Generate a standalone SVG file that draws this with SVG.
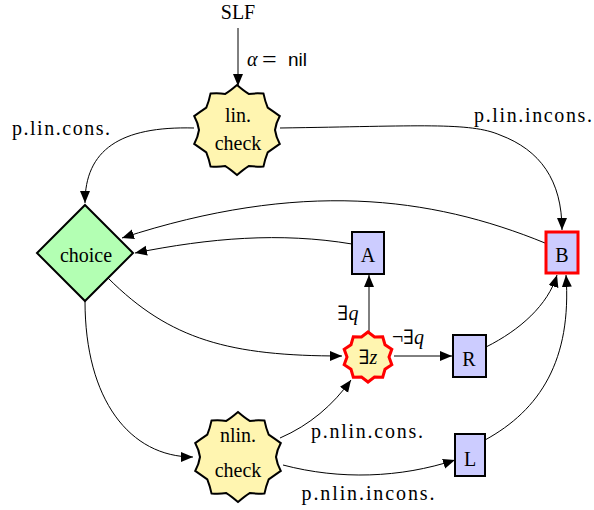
<svg xmlns="http://www.w3.org/2000/svg" width="594" height="510" viewBox="0 0 594 510">
  <style>
    text { font-family: "Liberation Serif", "DejaVu Serif", serif; font-size: 20px; fill: #000; }
    .c { text-anchor: middle; }
    .sans { font-family: "Liberation Sans", "DejaVu Sans", sans-serif; font-size: 19px; }
    .it { font-style: italic; }
    .eq { font-size: 26px; }
    .edge { fill: none; stroke: #000; stroke-width: 1; marker-end: url(#arr); }
    .star { fill: #fff5b0; stroke: #000; stroke-width: 2; stroke-linejoin: miter; }
    .star.red { stroke: #ff0000; stroke-width: 3; }
    .box { fill: #ccccff; stroke: #000; stroke-width: 2; }
    .box.red { stroke: #ff0000; stroke-width: 3; }
    .diamond { fill: #b3ffb3; stroke: #000; stroke-width: 2; }
  </style>
  <defs>
    <marker id="arr" markerUnits="userSpaceOnUse" markerWidth="13" markerHeight="11" refX="12" refY="5" orient="auto">
      <path d="M0,0 L12,5 L0,10 z" fill="#000"/>
    </marker>
  </defs>

  <!-- connectors -->
  <g id="edges">
    <path class="edge" d="M238,28 L238,86"/>
    <path class="edge" d="M194,128 C120,126 85,150 85,203"/>
    <path class="edge" d="M280,128 C420,126 470,122 500,135 C540,150 562,180 562,230"/>
    <path class="edge" d="M545,243 C430,196 300,180 122,238"/>
    <path class="edge" d="M352,244 C280,232 210,238 135,253"/>
    <path class="edge" d="M108,278 C170,340 230,356 342,356"/>
    <path class="edge" d="M85,301 C85,400 130,457 193,457"/>
    <path class="edge" d="M369,332 L369,275"/>
    <path class="edge" d="M394,356 L452,356"/>
    <path class="edge" d="M486,347 C520,330 548,305 557,275"/>
    <path class="edge" d="M485,440 C540,410 572,360 566,275"/>
    <path class="edge" d="M280,438 C310,425 333,405 351,380"/>
    <path class="edge" d="M283,465 C340,480 400,478 455,460"/>
  </g>

  <!-- edge labels -->
  <g id="labels">
    <text x="238" y="19" class="c">SLF</text>
    <text x="247" y="66" class="it">α</text>
    <text x="262" y="68" class="eq">=</text>
    <text x="288" y="66" class="sans">nil</text>
    <text x="61" y="135" class="c" textLength="98">p.lin.cons.</text>
    <text x="533" y="122" class="c" textLength="118">p.lin.incons.</text>
    <text x="348" y="320" class="c">∃<tspan class="it">q</tspan></text>
    <text x="408" y="344" class="c">¬∃<tspan class="it">q</tspan></text>
    <text x="367" y="438" class="c" textLength="112">p.nlin.cons.</text>
    <text x="368" y="500" class="c" textLength="133">p.nlin.incons.</text>
  </g>

  <g id="lincheck">
    <path class="star" d="M237,85 Q244,91 248.7,93.9 Q256,93 263.5,93.6 Q265,101 267.7,107.7 Q274,112 279.8,116.1 Q276,123 275,130 Q276,137 279.8,143.9 Q274,148 267.7,152.3 Q265,159 263.5,166.4 Q256,167 248.7,166.1 Q244,169 237,175 Q230,169 225.3,166.1 Q218,167 210.5,166.4 Q209,159 206.3,152.3 Q200,148 194.2,143.9 Q198,137 199,130 Q198,123 194.2,116.1 Q200,112 206.3,107.7 Q209,101 210.5,93.6 Q218,93 225.3,93.9 Q230,91 237,85 Z"/>
    <text x="238" y="122" class="c">lin.</text>
    <text x="238" y="150" class="c">check</text>
  </g>

  <g id="choice">
    <path class="diamond" d="M85,205 L133,253 L85,301 L37,253 Z"/>
    <text x="86" y="262" class="c">choice</text>
  </g>

  <g id="A">
    <rect class="box" x="352" y="232" width="32" height="42"/>
    <text x="368" y="262" class="c">A</text>
  </g>

  <g id="B">
    <rect class="box red" x="546" y="232" width="32" height="41"/>
    <text x="562" y="262" class="c">B</text>
  </g>

  <g id="existsz">
    <path class="star red" d="M368,332 L374.5,337 L382.7,336.8 L385,344.7 L391.8,349.3 L389,357 L391.8,364.7 L385,369.3 L382.7,377.2 L374.5,377 L368,382 L361.5,377 L353.3,377.2 L351,369.3 L344.2,364.7 L347,357 L344.2,349.3 L351,344.7 L353.3,336.8 L361.5,337 Z"/>
    <text x="368" y="364" class="c">∃<tspan class="it">z</tspan></text>
  </g>

  <g id="R">
    <rect class="box" x="453" y="335" width="33" height="42"/>
    <text x="469" y="366" class="c">R</text>
  </g>

  <g id="L">
    <rect class="box" x="455" y="434" width="30" height="42"/>
    <text x="470" y="466" class="c">L</text>
  </g>

  <g id="nlincheck">
    <path class="star" d="M238,412 Q245,418 249.7,420.9 Q257,420 264.5,420.6 Q266,428 268.7,434.7 Q275,439 280.8,443.1 Q277,450 276,457 Q277,464 280.8,470.9 Q275,475 268.7,479.3 Q266,486 264.5,493.4 Q257,494 249.7,493.1 Q245,496 238,502 Q231,496 226.3,493.1 Q219,494 211.5,493.4 Q210,486 207.3,479.3 Q201,475 195.2,470.9 Q199,464 200,457 Q199,450 195.2,443.1 Q201,439 207.3,434.7 Q210,428 211.5,420.6 Q219,420 226.3,420.9 Q231,418 238,412 Z"/>
    <text x="238" y="442" class="c">nlin.</text>
    <text x="238" y="477" class="c">check</text>
  </g>
</svg>
